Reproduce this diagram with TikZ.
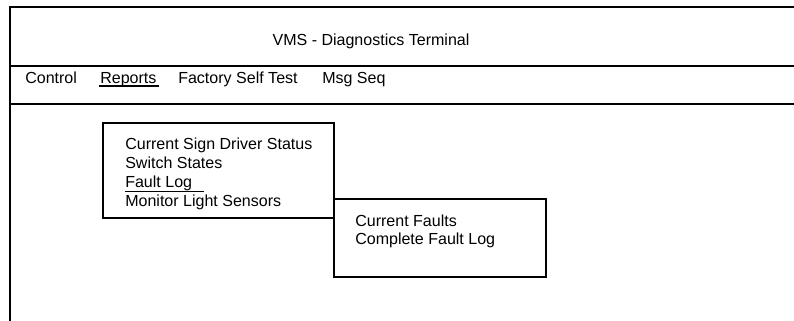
\documentclass[tikz,border=0pt]{standalone}
\usepackage{fontspec}
\setmainfont{Liberation Sans}
\usepackage{tikz}

\begin{document}
\begin{tikzpicture}[
  frame/.style={draw, line width=1.2pt},
  menu/.style={inner sep=0pt, font=\fontsize{11.4}{13.7}\selectfont},
  popup/.style={rectangle, draw, line width=1.2pt, fill=white},
  item/.style={inner sep=0pt, anchor=base west, font=\fontsize{11.4}{13.7}\selectfont},
  select/.style={draw, line width=1.2pt}
]
\useasboundingbox (0,0) rectangle (19.85,-8.025);

% Window frame
\draw[frame] (0.25,-8.025) -- (0.25,-0.175) -- (19.85,-0.175);
\draw[frame] (0.25,-1.65) -- (19.85,-1.65);
\draw[frame] (0.25,-2.6) -- (19.85,-2.6);

% Title bar
\node[menu, anchor=base] (title) at (9.275,-1.125) {VMS - Diagnostics Terminal};

% Menu bar
\node[menu, anchor=base west] (control) at (0.625,-2.083) {Control};
\node[menu, anchor=base west] (reports) at (2.5,-2.083) {Reports};
\node[menu, anchor=base west] (selftest) at (4.45,-2.083) {Factory Self Test};
\node[menu, anchor=base west] (msgseq) at (8.05,-2.083) {Msg Seq};
\draw[select] ([xshift=-0.025cm,yshift=-0.06cm]reports.base west) -- ([xshift=0.05cm,yshift=-0.06cm]reports.base east);

% Reports menu
\node[popup, minimum width=5.775cm, minimum height=2.375cm] (reportmenu) at (5.4625,-4.2625) {};
\node[item] (driver) at (3.125,-3.725) {Current Sign Driver Status};
\node[item] (switches) at (3.125,-4.2) {Switch States};
\node[item] (faultlog) at (3.125,-4.675) {Fault Log};
\node[item] (sensors) at (3.125,-5.15) {Monitor Light Sensors};
\draw[select] ([yshift=-0.11cm]faultlog.base west) -- ([xshift=0.28cm,yshift=-0.11cm]faultlog.base east);

% Fault Log submenu
\node[popup, minimum width=5.3cm, minimum height=1.95cm] (faultmenu) at (11.0,-5.95) {};
\node[item] (current) at (8.875,-5.65) {Current Faults};
\node[item] (complete) at (8.875,-6.1075) {Complete Fault Log};

\end{tikzpicture}
\end{document}
